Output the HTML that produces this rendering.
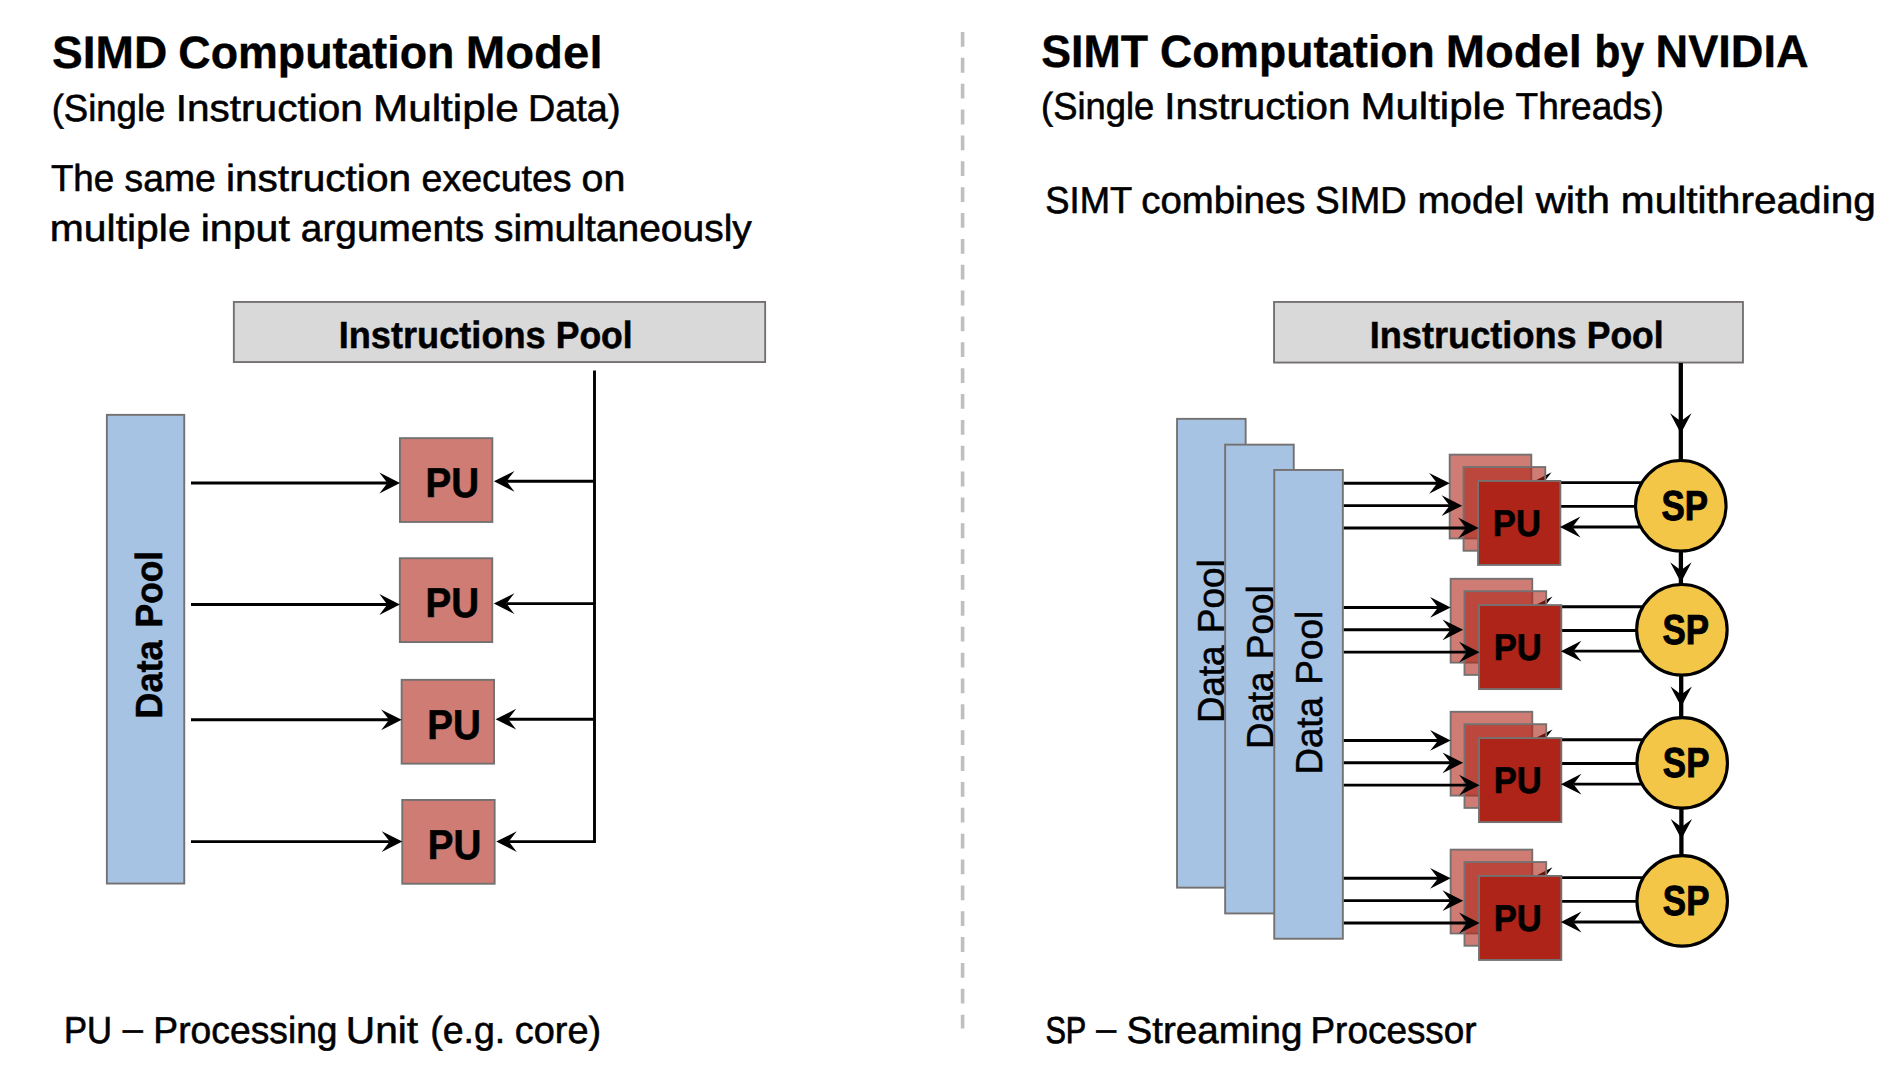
<!DOCTYPE html>
<html lang="en"><head><meta charset="utf-8"><title>SIMD vs SIMT Computation Model</title>
<style>
html,body{margin:0;padding:0;background:#fff;}
body{width:1898px;height:1078px;overflow:hidden;}
svg{display:block;}
text{font-family:"Liberation Sans", sans-serif;fill:#000;text-rendering:geometricPrecision;}
</style></head><body>
<svg width="1898" height="1078" viewBox="0 0 1898 1078">
<rect width="1898" height="1078" fill="#fff"/>

<line x1="962.6" y1="32" x2="962.6" y2="1028.5" stroke="#BFBFBF" stroke-width="3.6" stroke-dasharray="14.8 11.06"/>
<text id="t1" font-size="45.4" font-weight="700" stroke="#000" stroke-width="0.3"><tspan x="51.94" y="68" textLength="115.37" lengthAdjust="spacingAndGlyphs">SIMD</tspan> <tspan x="178.29" y="68" textLength="276.17" lengthAdjust="spacingAndGlyphs" stroke-width="0.35">Computation</tspan> <tspan x="465.66" y="68" textLength="136.93" lengthAdjust="spacingAndGlyphs">Model</tspan></text>
<text id="s1" font-size="37.5" stroke="#000" stroke-width="0.55"><tspan x="51.64" y="121" textLength="113.74" lengthAdjust="spacingAndGlyphs" stroke-width="0.59">(Single</tspan> <tspan x="175.73" y="121" textLength="187.08" lengthAdjust="spacingAndGlyphs">Instruction</tspan> <tspan x="373.06" y="121" textLength="145.58" lengthAdjust="spacingAndGlyphs">Multiple</tspan> <tspan x="528.09" y="121" textLength="92.39" lengthAdjust="spacingAndGlyphs">Data)</tspan></text>
<text id="b1a" font-size="37.5" stroke="#000" stroke-width="0.55"><tspan x="50.98" y="191" textLength="63.21" lengthAdjust="spacingAndGlyphs" stroke-width="0.58">The</tspan> <tspan x="124.62" y="191" textLength="91.06" lengthAdjust="spacingAndGlyphs" stroke-width="0.56">same</tspan> <tspan x="225.92" y="191" textLength="185.20" lengthAdjust="spacingAndGlyphs">instruction</tspan> <tspan x="421.55" y="191" textLength="150.07" lengthAdjust="spacingAndGlyphs">executes</tspan> <tspan x="581.56" y="191" textLength="43.78" lengthAdjust="spacingAndGlyphs">on</tspan></text>
<text id="b1b" font-size="37.5" stroke="#000" stroke-width="0.55"><tspan x="49.82" y="241" textLength="140.85" lengthAdjust="spacingAndGlyphs">multiple</tspan> <tspan x="200.71" y="241" textLength="89.21" lengthAdjust="spacingAndGlyphs">input</tspan> <tspan x="300.81" y="241" textLength="183.39" lengthAdjust="spacingAndGlyphs">arguments</tspan> <tspan x="494.02" y="241" textLength="257.78" lengthAdjust="spacingAndGlyphs">simultaneously</tspan></text>
<text id="t2" font-size="45.4" font-weight="700" stroke="#000" stroke-width="0.3"><tspan x="1041.19" y="67" textLength="106.76" lengthAdjust="spacingAndGlyphs" stroke-width="0.36">SIMT</tspan> <tspan x="1159.98" y="67" textLength="274.76" lengthAdjust="spacingAndGlyphs" stroke-width="0.37">Computation</tspan> <tspan x="1445.76" y="67" textLength="136.21" lengthAdjust="spacingAndGlyphs">Model</tspan> <tspan x="1594.61" y="67" textLength="49.38" lengthAdjust="spacingAndGlyphs" stroke-width="0.55">by</tspan> <tspan x="1655.49" y="67" textLength="153.22" lengthAdjust="spacingAndGlyphs" stroke-width="0.32">NVIDIA</tspan></text>
<text id="s2" font-size="37.5" stroke="#000" stroke-width="0.55"><tspan x="1041.05" y="119" textLength="113.13" lengthAdjust="spacingAndGlyphs" stroke-width="0.6">(Single</tspan> <tspan x="1164.37" y="119" textLength="186.02" lengthAdjust="spacingAndGlyphs">Instruction</tspan> <tspan x="1360.47" y="119" textLength="144.78" lengthAdjust="spacingAndGlyphs">Multiple</tspan> <tspan x="1515.53" y="119" textLength="148.20" lengthAdjust="spacingAndGlyphs" stroke-width="0.57">Threads)</tspan></text>
<text id="b2" font-size="37.5" stroke="#000" stroke-width="0.55"><tspan x="1045.33" y="213" textLength="86.20" lengthAdjust="spacingAndGlyphs" stroke-width="0.61">SIMT</tspan> <tspan x="1141.19" y="213" textLength="164.28" lengthAdjust="spacingAndGlyphs">combines</tspan> <tspan x="1315.27" y="213" textLength="91.36" lengthAdjust="spacingAndGlyphs" stroke-width="0.59">SIMD</tspan> <tspan x="1417.46" y="213" textLength="106.80" lengthAdjust="spacingAndGlyphs">model</tspan> <tspan x="1535.70" y="213" textLength="74.17" lengthAdjust="spacingAndGlyphs">with</tspan> <tspan x="1620.86" y="213" textLength="254.99" lengthAdjust="spacingAndGlyphs">multithreading</tspan></text>
<text id="f1" font-size="37.5" stroke="#000" stroke-width="0.55"><tspan x="63.94" y="1043" textLength="48.04" lengthAdjust="spacingAndGlyphs" stroke-width="0.66">PU</tspan> <tspan x="122.80" y="1041" textLength="20.08" lengthAdjust="spacingAndGlyphs" stroke-width="0.6">–</tspan> <tspan x="153.34" y="1043" textLength="184.27" lengthAdjust="spacingAndGlyphs" stroke-width="0.56">Processing</tspan> <tspan x="345.80" y="1043" textLength="72.31" lengthAdjust="spacingAndGlyphs">Unit</tspan> <tspan x="430.17" y="1043" textLength="75.12" lengthAdjust="spacingAndGlyphs">(e.g.</tspan> <tspan x="514.75" y="1043" textLength="86.42" lengthAdjust="spacingAndGlyphs">core)</tspan></text>
<text id="f2" font-size="37.5" stroke="#000" stroke-width="0.55"><tspan x="1045.43" y="1043" textLength="40.35" lengthAdjust="spacingAndGlyphs" stroke-width="0.83">SP</tspan> <tspan x="1096.20" y="1041" textLength="19.93" lengthAdjust="spacingAndGlyphs" stroke-width="0.61">–</tspan> <tspan x="1126.48" y="1043" textLength="175.90" lengthAdjust="spacingAndGlyphs">Streaming</tspan> <tspan x="1310.50" y="1043" textLength="166.13" lengthAdjust="spacingAndGlyphs" stroke-width="0.57">Processor</tspan></text>
<rect x="233.85" y="301.95" width="531.30" height="60.10" fill="#D9D9D9" stroke="#767171" stroke-width="1.9"/>
<text id="ip1" font-size="37.8" font-weight="700" stroke="#000" stroke-width="0.3"><tspan x="338.71" y="348" textLength="207.04" lengthAdjust="spacingAndGlyphs" stroke-width="0.47">Instructions</tspan> <tspan x="555.76" y="348" textLength="76.91" lengthAdjust="spacingAndGlyphs" stroke-width="0.53">Pool</tspan></text>
<rect x="106.85" y="414.85" width="77.40" height="468.70" fill="#A6C3E4" stroke="#767171" stroke-width="1.9"/>
<text id="dp0" transform="translate(162.4 717.1) rotate(-90)" font-size="37.8" font-weight="700" stroke="#000" stroke-width="0.3"><tspan x="-1.70" y="0" textLength="78.58" lengthAdjust="spacingAndGlyphs" stroke-width="0.46">Data</tspan> <tspan x="89.69" y="0" textLength="76.61" lengthAdjust="spacingAndGlyphs" stroke-width="0.55">Pool</tspan></text>
<line x1="594.5" y1="370.5" x2="594.5" y2="843.05" stroke="#000" stroke-width="2.9"/>
<rect x="399.95" y="438.15" width="92.40" height="83.80" fill="#AF2418" fill-opacity="0.6" stroke="#767171" stroke-width="1.9"/>
<line x1="191.00" y1="483.00" x2="387.40" y2="483.00" stroke="#000" stroke-width="2.9"/><path d="M400.00 483.00 L379.40 472.60 L387.40 483.00 L379.40 493.40 Z" fill="#000"/>
<line x1="594.50" y1="481.30" x2="506.50" y2="481.30" stroke="#000" stroke-width="2.9"/><path d="M493.90 481.30 L514.50 470.90 L506.50 481.30 L514.50 491.70 Z" fill="#000"/>
<text id="pul0" font-size="41.8" font-weight="700" stroke="#000" stroke-width="0.3"><tspan x="425.53" y="497" textLength="53.61" lengthAdjust="spacingAndGlyphs" stroke-width="0.59">PU</tspan></text>
<rect x="399.85" y="558.25" width="92.40" height="83.80" fill="#AF2418" fill-opacity="0.6" stroke="#767171" stroke-width="1.9"/>
<line x1="191.00" y1="604.50" x2="387.30" y2="604.50" stroke="#000" stroke-width="2.9"/><path d="M399.90 604.50 L379.30 594.10 L387.30 604.50 L379.30 614.90 Z" fill="#000"/>
<line x1="594.50" y1="603.60" x2="506.40" y2="603.60" stroke="#000" stroke-width="2.9"/><path d="M493.80 603.60 L514.40 593.20 L506.40 603.60 L514.40 614.00 Z" fill="#000"/>
<g transform="translate(-0.10 120.10)"><text id="pul1" font-size="41.8" font-weight="700" stroke="#000" stroke-width="0.3"><tspan x="425.53" y="497" textLength="53.61" lengthAdjust="spacingAndGlyphs" stroke-width="0.59">PU</tspan></text></g>
<rect x="401.65" y="679.85" width="92.40" height="83.80" fill="#AF2418" fill-opacity="0.6" stroke="#767171" stroke-width="1.9"/>
<line x1="191.00" y1="719.80" x2="389.10" y2="719.80" stroke="#000" stroke-width="2.9"/><path d="M401.70 719.80 L381.10 709.40 L389.10 719.80 L381.10 730.20 Z" fill="#000"/>
<line x1="594.50" y1="719.20" x2="508.20" y2="719.20" stroke="#000" stroke-width="2.9"/><path d="M495.60 719.20 L516.20 708.80 L508.20 719.20 L516.20 729.60 Z" fill="#000"/>
<g transform="translate(1.70 241.70)"><text id="pul2" font-size="41.8" font-weight="700" stroke="#000" stroke-width="0.3"><tspan x="425.53" y="497" textLength="53.61" lengthAdjust="spacingAndGlyphs" stroke-width="0.59">PU</tspan></text></g>
<rect x="402.25" y="799.95" width="92.40" height="83.80" fill="#AF2418" fill-opacity="0.6" stroke="#767171" stroke-width="1.9"/>
<line x1="191.00" y1="841.60" x2="389.70" y2="841.60" stroke="#000" stroke-width="2.9"/><path d="M402.30 841.60 L381.70 831.20 L389.70 841.60 L381.70 852.00 Z" fill="#000"/>
<line x1="594.50" y1="841.60" x2="508.80" y2="841.60" stroke="#000" stroke-width="2.9"/><path d="M496.20 841.60 L516.80 831.20 L508.80 841.60 L516.80 852.00 Z" fill="#000"/>
<g transform="translate(2.30 361.80)"><text id="pul3" font-size="41.8" font-weight="700" stroke="#000" stroke-width="0.3"><tspan x="425.53" y="497" textLength="53.61" lengthAdjust="spacingAndGlyphs" stroke-width="0.59">PU</tspan></text></g>
<rect x="1274.05" y="301.95" width="468.90" height="60.60" fill="#D9D9D9" stroke="#767171" stroke-width="1.9"/>
<text id="ip2" font-size="37.8" font-weight="700" stroke="#000" stroke-width="0.3"><tspan x="1369.71" y="348" textLength="207.04" lengthAdjust="spacingAndGlyphs" stroke-width="0.47">Instructions</tspan> <tspan x="1586.76" y="348" textLength="76.91" lengthAdjust="spacingAndGlyphs" stroke-width="0.53">Pool</tspan></text>
<rect x="1177.05" y="418.85" width="68.60" height="468.80" fill="#A6C3E4" stroke="#767171" stroke-width="1.9"/>
<text id="dp1" transform="translate(1223.6 720.4) rotate(-90)" font-size="37.5" stroke="#000" stroke-width="0.55"><tspan x="-2.65" y="0" textLength="77.41" lengthAdjust="spacingAndGlyphs" stroke-width="0.58">Data</tspan> <tspan x="87.16" y="0" textLength="73.91" lengthAdjust="spacingAndGlyphs" stroke-width="0.57">Pool</tspan></text>
<rect x="1225.15" y="444.65" width="68.60" height="468.80" fill="#A6C3E4" stroke="#767171" stroke-width="1.9"/>
<text id="dp2" transform="translate(1272.75 746.4) rotate(-90)" font-size="37.5" stroke="#000" stroke-width="0.55"><tspan x="-2.65" y="0" textLength="77.41" lengthAdjust="spacingAndGlyphs" stroke-width="0.58">Data</tspan> <tspan x="87.16" y="0" textLength="73.91" lengthAdjust="spacingAndGlyphs" stroke-width="0.57">Pool</tspan></text>
<rect x="1274.25" y="469.95" width="68.60" height="468.80" fill="#A6C3E4" stroke="#767171" stroke-width="1.9"/>
<text id="dp3" transform="translate(1321.9 771.9) rotate(-90)" font-size="37.5" stroke="#000" stroke-width="0.55"><tspan x="-2.65" y="0" textLength="77.41" lengthAdjust="spacingAndGlyphs" stroke-width="0.58">Data</tspan> <tspan x="87.16" y="0" textLength="73.91" lengthAdjust="spacingAndGlyphs" stroke-width="0.57">Pool</tspan></text>
<line x1="1680.80" y1="363.00" x2="1680.80" y2="460.55" stroke="#000" stroke-width="4.3"/><path d="M1680.80 433.40 L1670.10 413.20 L1680.80 421.20 L1691.50 413.20 Z" fill="#000"/>
<line x1="1680.90" y1="551.05" x2="1680.90" y2="584.55" stroke="#000" stroke-width="4.3"/><path d="M1680.90 582.50 L1670.20 562.30 L1680.90 570.30 L1691.60 562.30 Z" fill="#000"/>
<line x1="1681.20" y1="675.05" x2="1681.20" y2="717.65" stroke="#000" stroke-width="4.3"/><path d="M1681.20 706.70 L1670.50 686.50 L1681.20 694.50 L1691.90 686.50 Z" fill="#000"/>
<line x1="1681.40" y1="808.15" x2="1681.40" y2="855.65" stroke="#000" stroke-width="4.3"/><path d="M1681.40 839.10 L1670.70 818.90 L1681.40 826.90 L1692.10 818.90 Z" fill="#000"/>
<rect x="1449.70" y="454.65" width="81.60" height="83.80" fill="#AF2418" fill-opacity="0.6" stroke="#767171" stroke-width="1.9"/>
<line x1="1343.80" y1="483.30" x2="1437.15" y2="483.30" stroke="#000" stroke-width="2.9"/><path d="M1449.75 483.30 L1429.15 472.90 L1437.15 483.30 L1429.15 493.70 Z" fill="#000"/>
<line x1="1641.92" y1="482.65" x2="1543.55" y2="482.65" stroke="#000" stroke-width="2.9"/><path d="M1530.95 482.65 L1551.55 472.25 L1543.55 482.65 L1551.55 493.05 Z" fill="#000"/>
<rect x="1463.55" y="467.05" width="81.70" height="83.70" fill="#AF2418" fill-opacity="0.6" stroke="#767171" stroke-width="1.9"/>
<line x1="1343.80" y1="505.65" x2="1449.60" y2="505.65" stroke="#000" stroke-width="2.9"/><path d="M1462.20 505.65 L1441.60 495.25 L1449.60 505.65 L1441.60 516.05 Z" fill="#000"/>
<line x1="1635.55" y1="506.40" x2="1553.30" y2="506.40" stroke="#000" stroke-width="2.9"/><path d="M1540.70 506.40 L1561.30 496.00 L1553.30 506.40 L1561.30 516.80 Z" fill="#000"/>
<rect x="1478.05" y="480.95" width="82.30" height="84.00" fill="#AF2418" stroke="#767171" stroke-width="1.9"/>
<line x1="1343.80" y1="528.00" x2="1466.10" y2="528.00" stroke="#000" stroke-width="2.9"/><path d="M1478.70 528.00 L1458.10 517.60 L1466.10 528.00 L1458.10 538.40 Z" fill="#000"/>
<line x1="1640.82" y1="527.00" x2="1572.50" y2="527.00" stroke="#000" stroke-width="2.9"/><path d="M1559.90 527.00 L1580.50 516.60 L1572.50 527.00 L1580.50 537.40 Z" fill="#000"/>
<text id="pur0" font-size="37.4" font-weight="700" stroke="#000" stroke-width="0.3"><tspan x="1492.82" y="536" textLength="48.09" lengthAdjust="spacingAndGlyphs" stroke-width="0.58">PU</tspan></text>
<rect x="1450.65" y="578.80" width="81.60" height="83.80" fill="#AF2418" fill-opacity="0.6" stroke="#767171" stroke-width="1.9"/>
<line x1="1343.80" y1="607.45" x2="1438.10" y2="607.45" stroke="#000" stroke-width="2.9"/><path d="M1450.70 607.45 L1430.10 597.05 L1438.10 607.45 L1430.10 617.85 Z" fill="#000"/>
<line x1="1642.93" y1="606.80" x2="1544.50" y2="606.80" stroke="#000" stroke-width="2.9"/><path d="M1531.90 606.80 L1552.50 596.40 L1544.50 606.80 L1552.50 617.20 Z" fill="#000"/>
<rect x="1464.50" y="591.20" width="81.70" height="83.70" fill="#AF2418" fill-opacity="0.6" stroke="#767171" stroke-width="1.9"/>
<line x1="1343.80" y1="629.80" x2="1450.55" y2="629.80" stroke="#000" stroke-width="2.9"/><path d="M1463.15 629.80 L1442.55 619.40 L1450.55 629.80 L1442.55 640.20 Z" fill="#000"/>
<line x1="1636.66" y1="630.55" x2="1554.25" y2="630.55" stroke="#000" stroke-width="2.9"/><path d="M1541.65 630.55 L1562.25 620.15 L1554.25 630.55 L1562.25 640.95 Z" fill="#000"/>
<rect x="1479.00" y="605.10" width="82.30" height="84.00" fill="#AF2418" stroke="#767171" stroke-width="1.9"/>
<line x1="1343.80" y1="652.15" x2="1467.05" y2="652.15" stroke="#000" stroke-width="2.9"/><path d="M1479.65 652.15 L1459.05 641.75 L1467.05 652.15 L1459.05 662.55 Z" fill="#000"/>
<line x1="1642.00" y1="651.15" x2="1573.45" y2="651.15" stroke="#000" stroke-width="2.9"/><path d="M1560.85 651.15 L1581.45 640.75 L1573.45 651.15 L1581.45 661.55 Z" fill="#000"/>
<g transform="translate(0.95 124.15)"><text id="pur1" font-size="37.4" font-weight="700" stroke="#000" stroke-width="0.3"><tspan x="1492.82" y="536" textLength="48.09" lengthAdjust="spacingAndGlyphs" stroke-width="0.58">PU</tspan></text></g>
<rect x="1450.65" y="711.80" width="81.60" height="83.80" fill="#AF2418" fill-opacity="0.6" stroke="#767171" stroke-width="1.9"/>
<line x1="1343.80" y1="740.45" x2="1438.10" y2="740.45" stroke="#000" stroke-width="2.9"/><path d="M1450.70 740.45 L1430.10 730.05 L1438.10 740.45 L1430.10 750.85 Z" fill="#000"/>
<line x1="1643.29" y1="739.80" x2="1544.50" y2="739.80" stroke="#000" stroke-width="2.9"/><path d="M1531.90 739.80 L1552.50 729.40 L1544.50 739.80 L1552.50 750.20 Z" fill="#000"/>
<rect x="1464.50" y="724.20" width="81.70" height="83.70" fill="#AF2418" fill-opacity="0.6" stroke="#767171" stroke-width="1.9"/>
<line x1="1343.80" y1="762.80" x2="1450.55" y2="762.80" stroke="#000" stroke-width="2.9"/><path d="M1463.15 762.80 L1442.55 752.40 L1450.55 762.80 L1442.55 773.20 Z" fill="#000"/>
<line x1="1636.95" y1="763.55" x2="1554.25" y2="763.55" stroke="#000" stroke-width="2.9"/><path d="M1541.65 763.55 L1562.25 753.15 L1554.25 763.55 L1562.25 773.95 Z" fill="#000"/>
<rect x="1479.00" y="738.10" width="82.30" height="84.00" fill="#AF2418" stroke="#767171" stroke-width="1.9"/>
<line x1="1343.80" y1="785.15" x2="1467.05" y2="785.15" stroke="#000" stroke-width="2.9"/><path d="M1479.65 785.15 L1459.05 774.75 L1467.05 785.15 L1459.05 795.55 Z" fill="#000"/>
<line x1="1642.25" y1="784.15" x2="1573.45" y2="784.15" stroke="#000" stroke-width="2.9"/><path d="M1560.85 784.15 L1581.45 773.75 L1573.45 784.15 L1581.45 794.55 Z" fill="#000"/>
<g transform="translate(0.95 257.15)"><text id="pur2" font-size="37.4" font-weight="700" stroke="#000" stroke-width="0.3"><tspan x="1492.82" y="536" textLength="48.09" lengthAdjust="spacingAndGlyphs" stroke-width="0.58">PU</tspan></text></g>
<rect x="1450.65" y="849.65" width="81.60" height="83.80" fill="#AF2418" fill-opacity="0.6" stroke="#767171" stroke-width="1.9"/>
<line x1="1343.80" y1="878.30" x2="1438.10" y2="878.30" stroke="#000" stroke-width="2.9"/><path d="M1450.70 878.30 L1430.10 867.90 L1438.10 878.30 L1430.10 888.70 Z" fill="#000"/>
<line x1="1643.38" y1="877.65" x2="1544.50" y2="877.65" stroke="#000" stroke-width="2.9"/><path d="M1531.90 877.65 L1552.50 867.25 L1544.50 877.65 L1552.50 888.05 Z" fill="#000"/>
<rect x="1464.50" y="862.05" width="81.70" height="83.70" fill="#AF2418" fill-opacity="0.6" stroke="#767171" stroke-width="1.9"/>
<line x1="1343.80" y1="900.65" x2="1450.55" y2="900.65" stroke="#000" stroke-width="2.9"/><path d="M1463.15 900.65 L1442.55 890.25 L1450.55 900.65 L1442.55 911.05 Z" fill="#000"/>
<line x1="1636.95" y1="901.40" x2="1554.25" y2="901.40" stroke="#000" stroke-width="2.9"/><path d="M1541.65 901.40 L1562.25 891.00 L1554.25 901.40 L1562.25 911.80 Z" fill="#000"/>
<rect x="1479.00" y="875.95" width="82.30" height="84.00" fill="#AF2418" stroke="#767171" stroke-width="1.9"/>
<line x1="1343.80" y1="923.00" x2="1467.05" y2="923.00" stroke="#000" stroke-width="2.9"/><path d="M1479.65 923.00 L1459.05 912.60 L1467.05 923.00 L1459.05 933.40 Z" fill="#000"/>
<line x1="1642.17" y1="922.00" x2="1573.45" y2="922.00" stroke="#000" stroke-width="2.9"/><path d="M1560.85 922.00 L1581.45 911.60 L1573.45 922.00 L1581.45 932.40 Z" fill="#000"/>
<g transform="translate(0.95 395.00)"><text id="pur3" font-size="37.4" font-weight="700" stroke="#000" stroke-width="0.3"><tspan x="1492.82" y="536" textLength="48.09" lengthAdjust="spacingAndGlyphs" stroke-width="0.58">PU</tspan></text></g>
<circle cx="1680.8" cy="505.8" r="45.25" fill="#F3C647" stroke="#000" stroke-width="3.1"/>
<text id="sp0" font-size="42.0" font-weight="700" stroke="#000" stroke-width="0.3"><tspan x="1661.46" y="520" textLength="46.58" lengthAdjust="spacingAndGlyphs" stroke-width="0.94">SP</tspan></text>
<circle cx="1681.9" cy="629.8" r="45.25" fill="#F3C647" stroke="#000" stroke-width="3.1"/>
<g transform="translate(1.10 124.00)"><text id="sp1" font-size="42.0" font-weight="700" stroke="#000" stroke-width="0.3"><tspan x="1661.46" y="520" textLength="46.58" lengthAdjust="spacingAndGlyphs" stroke-width="0.94">SP</tspan></text></g>
<circle cx="1682.2" cy="762.9" r="45.25" fill="#F3C647" stroke="#000" stroke-width="3.1"/>
<g transform="translate(1.40 257.10)"><text id="sp2" font-size="42.0" font-weight="700" stroke="#000" stroke-width="0.3"><tspan x="1661.46" y="520" textLength="46.58" lengthAdjust="spacingAndGlyphs" stroke-width="0.94">SP</tspan></text></g>
<circle cx="1682.2" cy="900.9" r="45.25" fill="#F3C647" stroke="#000" stroke-width="3.1"/>
<g transform="translate(1.40 395.10)"><text id="sp3" font-size="42.0" font-weight="700" stroke="#000" stroke-width="0.3"><tspan x="1661.46" y="520" textLength="46.58" lengthAdjust="spacingAndGlyphs" stroke-width="0.94">SP</tspan></text></g>
</svg></body></html>
